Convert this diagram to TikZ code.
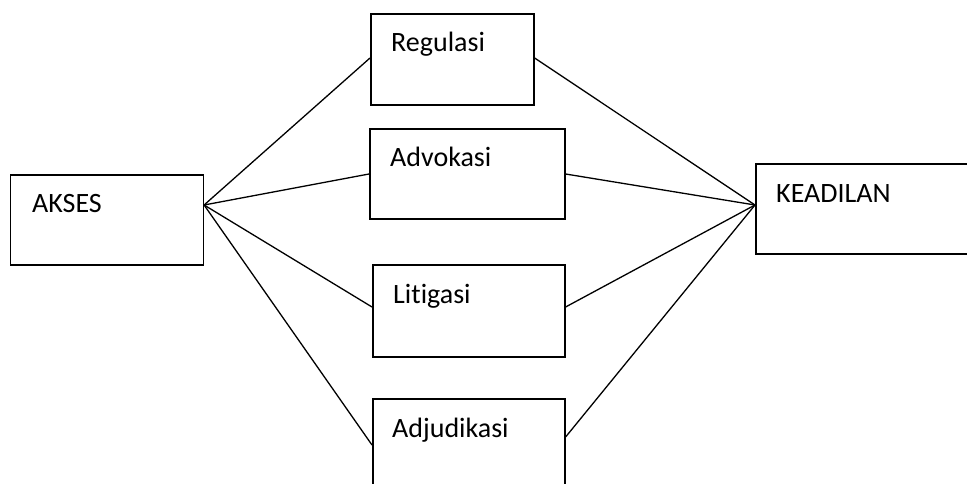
\documentclass[tikz,border=0pt]{standalone}
\usepackage{fontspec}
\setmainfont{Carlito}[Ligatures=NoCommon]
\begin{document}
\begin{tikzpicture}[x=1pt,y=-1pt,
  boxnode/.style={draw=black,line width=1.6pt,rectangle,inner sep=0pt,anchor=north west},
  lbl/.style={anchor=base west,inner sep=0pt,font=\fontsize{28}{32}\selectfont},
  link/.style={draw=black,line width=1.3pt}]
\useasboundingbox (0,0) rectangle (967,484);
\clip (0,0) rectangle (967,484);
\node[boxnode,minimum width=193pt,minimum height=90pt] (akses) at (9.5,174) {};
\node[boxnode,minimum width=163pt,minimum height=91pt] (reg) at (370,13) {};
\node[boxnode,minimum width=195pt,minimum height=90pt] (adv) at (369,128) {};
\node[boxnode,minimum width=192pt,minimum height=92pt] (lit) at (372,264) {};
\node[boxnode,minimum width=192pt,minimum height=110pt] (adj) at (372,398) {};
\node[boxnode,minimum width=225pt,minimum height=90pt] (kea) at (755,163) {};
\node[lbl] (taks) at (32,212) {AKSES};
\node[lbl] (treg) at (391,52) {Regulasi};
\node[lbl] (tadv) at (390,167) {Advokasi};
\node[lbl] (tlit) at (393,303) {Litigasi};
\node[lbl] (tadj) at (392,437) {Adjudikasi};
\node[lbl] (tkea) at (776,202) {KEADILAN};
\coordinate (ap) at ([yshift=-31pt]akses.north east);
\coordinate (kp) at ([yshift=-42pt]kea.north west);
\draw[link] (ap) -- ([yshift=-45pt]reg.north west);
\draw[link] (ap) -- ([yshift=-46pt]adv.north west);
\draw[link] (ap) -- ([yshift=-43pt]lit.north west);
\draw[link] (ap) -- ([yshift=-47pt]adj.north west);
\draw[link] ([yshift=-45pt]reg.north east) -- (kp);
\draw[link] ([yshift=-46pt]adv.north east) -- (kp);
\draw[link] ([yshift=-43pt]lit.north east) -- (kp);
\draw[link] ([yshift=-39pt]adj.north east) -- (kp);
\end{tikzpicture}
\end{document}
